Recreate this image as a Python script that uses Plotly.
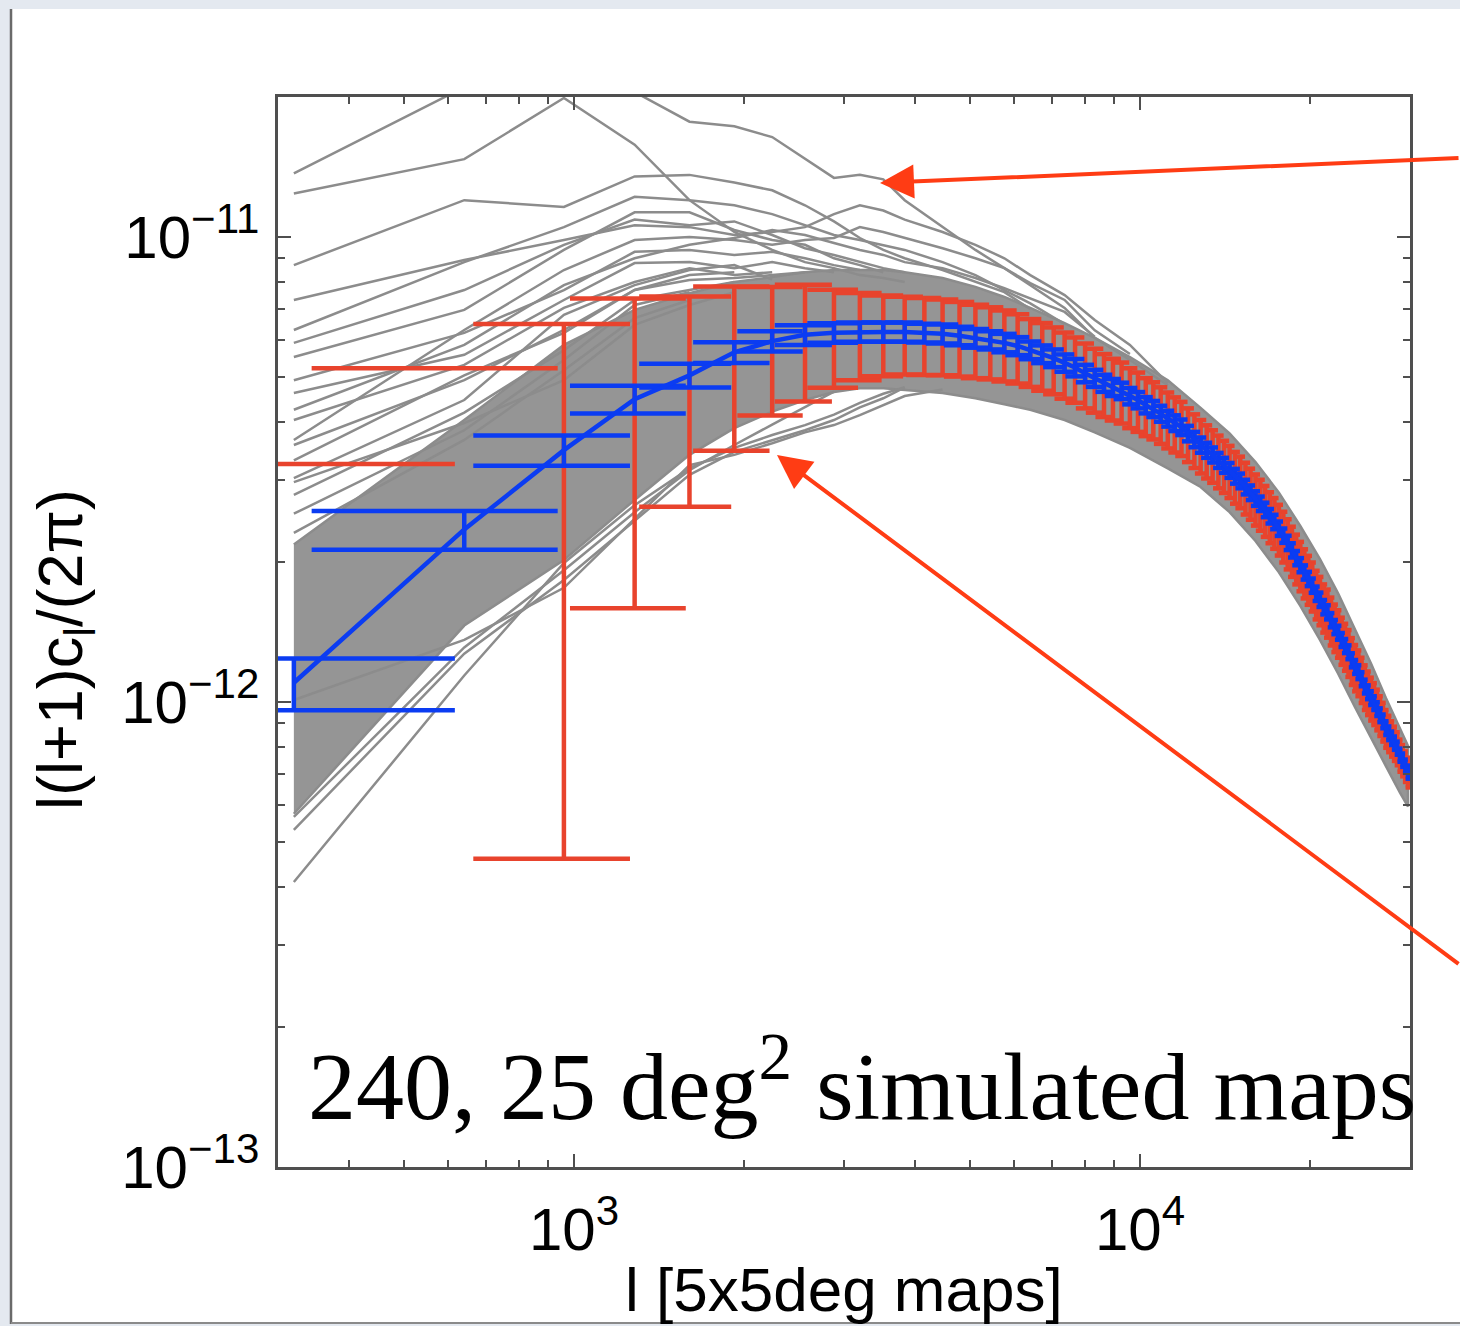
import math
import plotly.graph_objects as go

# ---------------- data ----------------
UNIT = 1e-12  # values below are in units of 1e-12

# multipole bin centres
ELL = [320, 640, 960, 1280, 1600, 1920, 2240, 2560, 2880, 3200,
       3520, 3840, 4160, 4480, 4800, 5120, 5440, 5760, 6080, 6400,
       6720, 7040, 7360, 7680, 8000, 8320, 8640, 8960, 9280, 9600,
       9920, 10240, 10560, 10880, 11200, 11520, 11840, 12160, 12480, 12800,
       13120, 13440, 13760, 14080, 14400, 14720, 15040, 15360, 15680, 16000,
       16320, 16640, 16960, 17280, 17600, 17920, 18240, 18560, 18880, 19200,
       19520, 19840, 20160, 20480, 20800, 21120, 21440, 21760, 22080, 22400,
       22720, 23040, 23360, 23680, 24000, 24320, 24640, 24960, 25280, 25600,
       25920, 26240, 26560, 26880, 27200, 27520, 27840, 28160, 28480, 28800,
       29120, 29440, 29760]

# mean l(l+1)c_l/2pi of the simulations
MEAN = [1.10, 2.35, 3.48, 4.48, 5.04, 5.65, 5.97, 6.16, 6.22, 6.25,
        6.25, 6.25, 6.22, 6.19, 6.13, 6.06, 6.00, 5.92, 5.83, 5.71,
        5.60, 5.49, 5.36, 5.24, 5.09, 4.97, 4.85, 4.75, 4.67, 4.55,
        4.46, 4.35, 4.27, 4.17, 4.07, 3.98, 3.90, 3.78, 3.67, 3.57,
        3.48, 3.40, 3.31, 3.23, 3.15, 3.06, 2.99, 2.90, 2.82, 2.74,
        2.67, 2.59, 2.51, 2.44, 2.36, 2.28, 2.20, 2.12, 2.04, 1.97,
        1.90, 1.84, 1.78, 1.71, 1.66, 1.60, 1.56, 1.50, 1.45, 1.41,
        1.36, 1.32, 1.28, 1.23, 1.19, 1.16, 1.12, 1.08, 1.05, 1.02,
        0.995, 0.966, 0.937, 0.909, 0.879, 0.857, 0.836, 0.816, 0.796, 0.769,
        0.750, 0.728, 0.707]

# scatter of a single map (red error bars)
SIG_MAP = [2.15, 2.87, 3.02, 2.89, 2.41, 2.18, 1.84, 1.73, 1.48, 1.33,
           1.23, 1.19, 1.17, 1.15, 1.12, 1.09, 1.06, 1.03, 0.99, 0.95,
           0.93, 0.90, 0.87, 0.84, 0.81, 0.78, 0.75, 0.72, 0.70, 0.67,
           0.65, 0.62, 0.60, 0.58, 0.56, 0.54, 0.52, 0.50, 0.485, 0.47,
           0.455, 0.44, 0.43, 0.415, 0.405, 0.39, 0.38, 0.37, 0.355, 0.345,
           0.335, 0.325, 0.315, 0.305, 0.295, 0.285, 0.272, 0.262, 0.25, 0.24,
           0.23, 0.222, 0.215, 0.205, 0.198, 0.19, 0.185, 0.177, 0.17, 0.165,
           0.158, 0.153, 0.148, 0.142, 0.136, 0.131, 0.125, 0.119, 0.113, 0.108,
           0.103, 0.097, 0.092, 0.087, 0.082, 0.077, 0.073, 0.069, 0.065, 0.061,
           0.058, 0.055, 0.052]

# error on the mean (blue error bars)
ERR_MEAN = [0.14, 0.225, 0.26, 0.305, 0.295, 0.29, 0.30, 0.30, 0.30, 0.30,
            0.30, 0.30, 0.29, 0.29, 0.28, 0.28, 0.27, 0.27, 0.26, 0.25,
            0.245, 0.24, 0.23, 0.225, 0.22, 0.21, 0.205, 0.20, 0.19, 0.185,
            0.18, 0.175, 0.17, 0.165, 0.16, 0.155, 0.15, 0.145, 0.14, 0.135,
            0.13, 0.127, 0.123, 0.12, 0.116, 0.112, 0.109, 0.105, 0.102, 0.099,
            0.096, 0.093, 0.09, 0.087, 0.084, 0.081, 0.078, 0.075, 0.072, 0.069,
            0.067, 0.065, 0.063, 0.061, 0.059, 0.057, 0.055, 0.053, 0.051, 0.049,
            0.047, 0.046, 0.044, 0.043, 0.041, 0.040, 0.039, 0.037, 0.036, 0.035,
            0.034, 0.033, 0.032, 0.031, 0.030, 0.029, 0.028, 0.027, 0.026, 0.025,
            0.025, 0.024, 0.023]

# envelope of the dense bundle of simulated spectra
BAND_ELL = [320, 640, 960, 1280, 1600, 1920, 2240, 2560, 2880, 3200, 3520, 3840,
            4480, 5120, 5760, 6400, 7360, 8320, 9600, 11200, 12800, 14400, 16000,
            17600, 19200, 20800, 22400, 24000, 25600, 27200, 28800, 29760]
BAND_HI = [2.18, 4.04, 5.86, 6.97, 7.57, 8.00, 8.20, 8.40, 8.49, 8.49, 8.49, 8.40,
           8.16, 7.81, 7.43, 7.04, 6.53, 6.07, 5.52, 4.92, 4.29, 3.78, 3.28,
           2.82, 2.39, 2.03, 1.71, 1.43, 1.21, 1.02, 0.879, 0.804]
BAND_LO = [0.575, 1.46, 2.02, 2.72, 3.40, 3.88, 4.21, 4.46, 4.64, 4.73, 4.73, 4.69,
           4.62, 4.50, 4.37, 4.25, 4.04, 3.80, 3.52, 3.18, 2.90, 2.56, 2.22,
           1.90, 1.61, 1.36, 1.15, 0.974, 0.836, 0.728, 0.638, 0.596]

# individual simulated spectra that stray outside the bundle
SIM_ELL = [320, 640, 960, 1280, 1600, 1920, 2240, 2560, 2880, 3200,
           3520, 3840, 4480, 5120, 5760, 6400, 7360, 8320, 9600, 11200]
SIM_1 = [13.7, 21.0, 22.9, 20.5, 17.7, 17.3, 16.4, 14.7, 13.4, 13.6, 13.3, 12.0,
         10.5, 9.38, 8.57, 7.88, 7.04, 6.07, 5.44, 4.80]
SIM_2 = [12.4, 14.7, 19.9, 15.8, 12.0, 10.25, 9.38, 8.83, 8.57, 8.28, 8.16, 8.00]
SIM_3 = [8.70, 12.0, 11.6, 13.5, 13.6, 13.1, 12.6, 11.7, 10.8, 9.95, 9.38, 9.00,
         8.49, 8.00, 7.61, 7.00]
SIM_4 = [6.31, 8.83, 10.5, 12.2, 12.0, 11.7, 11.2, 10.6, 10.1, 9.85, 9.62, 9.38,
         8.83, 8.28, 7.69, 7.20, 6.50]
SIM_5 = [5.92, 7.69, 9.62, 10.9, 10.6, 10.8, 10.1, 9.46, 9.15, 8.83, 8.57, 8.40]
SIM_6 = [5.52, 6.97, 9.38, 11.3, 11.3, 10.35, 9.85, 9.62, 9.00, 8.70, 8.40]
SIM_7 = [4.92, 6.22, 7.69, 9.29, 9.38, 9.15, 9.29, 9.00, 8.70, 8.49]
SIM_8 = [4.62, 5.58, 7.32, 8.79, 8.83, 8.57, 8.83, 8.57, 8.40]
SIM_9 = [3.57, 4.92, 6.31, 7.69, 8.08, 8.16, 8.28, 8.40]
SIM_10 = [3.03, 4.46, 6.80, 7.88, 8.49, 8.70, 8.10]
SIM_11 = [2.79, 4.19, 5.71, 7.32, 7.69, 8.00]
SIM_12 = [2.54, 3.84, 5.44, 7.14, 7.61]
SIM_13 = [2.31, 3.66, 5.17, 6.69, 7.32]
SIM_14 = [0.410, 1.14, 1.99, 2.65, 3.18, 3.52, 3.75, 3.94, 4.15, 4.40, 4.60, 4.75]
SIM_15 = [0.531, 1.27, 1.83, 2.46, 3.08, 3.45, 3.66, 3.84, 4.04, 4.30, 4.50, 4.75]
SIM_16 = [0.566, 1.31, 1.92, 2.56, 3.15, 3.57, 3.95, 4.30, 4.65]
SIM_17 = [1.01, 1.36, 1.76, 2.48, 3.23, 3.40, 3.60, 3.80, 3.94, 4.14, 4.35, 4.55, 4.70]
SIM_18 = [7.32, 8.92, 9.85, 10.6, 10.5, 10.1, 10.25, 10.5, 11.2, 11.7, 11.4, 10.9,
          10.25, 9.62, 9.00, 8.28, 7.50, 6.63, 5.86, 4.85]
SIM_19 = [3.66, 6.31, 8.49, 9.85, 10.0, 9.85, 9.62, 9.85, 9.95, 10.5, 10.25, 9.95,
          9.46, 9.00, 8.57, 7.96, 7.32, 6.30, 5.60]
SIM_20 = [4.25, 5.86, 7.88, 9.00, 9.62, 9.95, 10.35, 10.1, 9.71, 9.38, 9.15, 8.83,
          8.57, 8.16, 7.76, 7.39, 6.90, 6.10]
SIM_21 = [3.31, 5.04, 6.22, 7.69, 8.28, 8.40]
SIM_22 = [4.04, 5.31, 7.04, 8.00, 8.57, 8.28, 8.40]
SIM_23 = [2.97, 3.98, 4.92, 6.47, 7.14, 7.61]
SIMS = [SIM_1, SIM_2, SIM_3, SIM_4, SIM_5, SIM_6, SIM_7, SIM_8, SIM_9, SIM_10,
        SIM_11, SIM_12, SIM_13, SIM_14, SIM_15, SIM_16, SIM_17, SIM_18, SIM_19,
        SIM_20, SIM_21, SIM_22, SIM_23]

X_TICKS = [1000, 10000]
X_TICKTEXT = ["10<sup>3</sup>", "10<sup>4</sup>"]
Y_TICKS = [1e-13, 1e-12, 1e-11]
Y_TICKTEXT = ["10<sup>\u221213</sup>", "10<sup>\u221212</sup>", "10<sup>\u221211</sup>"]

# ---------------- styles ----------------
GRAY = "#8c8c8c"
BAND_FILL = "#959595"
RED = "#e8432d"
BLUE = "#0b3cf2"
ARROW = "#ff3c14"
AXC = "#4f4f4f"
CAP = 296.0          # half-width of error-bar caps, in multipole units
W, H = 1460, 1326
PL, PR, PT, PB = 278, 50, 97, 159
PW, PH = W - PL - PR, H - PT - PB


def px(xp):
    return (xp - PL) / PW


def py(yp):
    return (H - PB - yp) / PH


def errbar_segments(ells, centre, err, with_stem=True):
    xs, ys = [], []
    for l, m, e in zip(ells, centre, err):
        hi = (m + e) * UNIT
        lo = (m - e) * UNIT
        xs += [l - CAP, l + CAP, None]
        ys += [hi, hi, None]
        if lo > 0:
            xs += [l - CAP, l + CAP, None]
            ys += [lo, lo, None]
            if with_stem:
                xs += [l, l, None]
                ys += [lo, hi, None]
    return xs, ys


fig = go.Figure()

# dense bundle of spectra
fig.add_trace(go.Scatter(
    x=BAND_ELL + BAND_ELL[::-1],
    y=[v * UNIT for v in BAND_HI] + [v * UNIT for v in BAND_LO[::-1]],
    mode="lines", fill="toself", fillcolor=BAND_FILL,
    line=dict(color=GRAY, width=2.5), hoverinfo="skip"))

# straying spectra
for s in SIMS:
    fig.add_trace(go.Scatter(
        x=SIM_ELL[:len(s)], y=[v * UNIT for v in s],
        mode="lines", line=dict(color=GRAY, width=2.5), hoverinfo="skip"))

# red: scatter of individual maps
rx, ry = errbar_segments(ELL, MEAN, SIG_MAP)
fig.add_trace(go.Scatter(x=rx, y=ry, mode="lines",
                         line=dict(color=RED, width=4.5), hoverinfo="skip"))

# blue: error on the mean + mean curve
bx, by = errbar_segments(ELL, MEAN, ERR_MEAN)
fig.add_trace(go.Scatter(x=bx, y=by, mode="lines",
                         line=dict(color=BLUE, width=4.5), hoverinfo="skip"))
fig.add_trace(go.Scatter(x=ELL, y=[v * UNIT for v in MEAN], mode="lines",
                         line=dict(color=BLUE, width=4.5), hoverinfo="skip"))

axis_common = dict(
    type="log", showgrid=False, zeroline=False,
    showline=True, linecolor=AXC, linewidth=2.5, mirror="allticks",
    ticks="inside", ticklen=13, tickwidth=1.5, tickcolor=AXC,
    tickfont=dict(family="Liberation Sans, Arial, sans-serif", size=60, color="black"),
)

x_minor = [400, 500, 600, 700, 800, 900, 2000, 3000, 4000, 5000, 6000, 7000,
           8000, 9000, 20000]
y_minor = [2e-13, 3e-13, 4e-13, 5e-13, 6e-13, 7e-13, 8e-13, 9e-13,
           2e-12, 3e-12, 4e-12, 5e-12, 6e-12, 7e-12, 8e-12, 9e-12]

fig.update_xaxes(range=[math.log10(300), math.log10(30000)],
                 tickvals=X_TICKS, ticktext=X_TICKTEXT, ticklabelstandoff=8,
                 minor=dict(ticks="inside", ticklen=7, tickwidth=1.5,
                            tickcolor=AXC, tickvals=x_minor, showgrid=False),
                 **axis_common)
fig.update_yaxes(range=[-13, math.log10(2e-11)],
                 tickvals=Y_TICKS, ticktext=Y_TICKTEXT, ticklabelstandoff=4,
                 minor=dict(ticks="inside", ticklen=7, tickwidth=1.5,
                            tickcolor=AXC, tickvals=y_minor, showgrid=False),
                 **axis_common)

shapes = [
    dict(type="rect", xref="paper", yref="paper", layer="below",
         x0=px(11), x1=px(1475), y0=py(1323), y1=py(9),
         fillcolor="white", line=dict(width=0)),
    dict(type="line", xref="paper", yref="paper",
         x0=px(11), x1=px(11), y0=py(1324), y1=py(9),
         line=dict(color="#6a6a6a", width=2.5)),
    dict(type="line", xref="paper", yref="paper",
         x0=px(11), x1=px(1475), y0=py(1323), y1=py(1323),
         line=dict(color="#8a8a8a", width=2)),
]

annotations = [
    dict(xref="paper", yref="paper", x=px(880), y=py(183), text="",
         showarrow=True, ax=585, ay=-25, arrowhead=2, arrowsize=1.7,
         arrowwidth=4, arrowcolor=ARROW, standoff=0),
    dict(xref="paper", yref="paper", x=px(777), y=py(455), text="",
         showarrow=True, ax=688, ay=510, arrowhead=2, arrowsize=1.7,
         arrowwidth=4, arrowcolor=ARROW, standoff=0),
    dict(xref="paper", yref="paper", x=px(306), y=py(1079),
         xanchor="left", yanchor="middle", showarrow=False,
         text="240, 25 deg<sup>2</sup> simulated maps",
         font=dict(family="Liberation Serif, Times New Roman, serif", size=96, color="black")),
    dict(xref="paper", yref="paper", x=0.5, y=py(1289),
         xanchor="center", yanchor="middle", showarrow=False,
         text="l [5x5deg maps]",
         font=dict(family="Liberation Sans, Arial, sans-serif", size=62, color="black")),
    dict(xref="paper", yref="paper", x=px(64), y=py(650),
         xanchor="center", yanchor="middle", showarrow=False, textangle=-90,
         text="l(l+1)c<sub>l</sub>/(2\u03c0)",
         font=dict(family="Liberation Sans, Arial, sans-serif", size=63, color="black")),
]

fig.update_layout(
    width=W, height=H,
    margin=dict(l=PL, r=PR, t=PT, b=PB),
    paper_bgcolor="#e4e9f0", plot_bgcolor="white",
    showlegend=False, shapes=shapes, annotations=annotations,
)

fig.write_html("out.html")
